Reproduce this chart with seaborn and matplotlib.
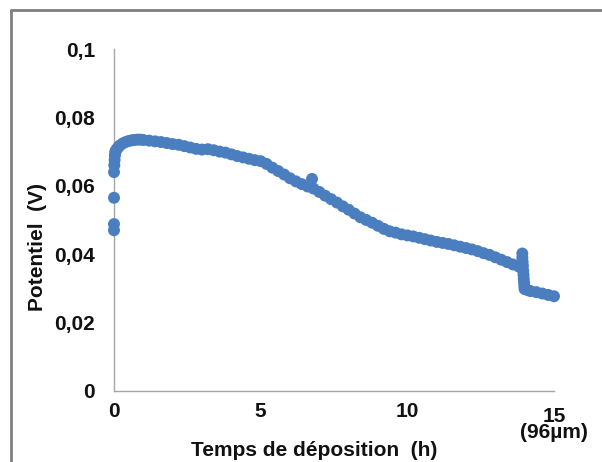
import matplotlib
matplotlib.use("Agg")
import matplotlib.pyplot as plt
import matplotlib.transforms as mtransforms
from matplotlib.lines import Line2D
import seaborn as sns
import pandas as pd

# ---- data ----
temps_h = [0, 0, 0, 0, 0.01, 0.02, 0.03, 0.04, 0.06, 0.1, 0.15, 0.2, 0.3, 0.4, 0.5,
           0.6, 0.7, 0.8, 0.9, 1.0, 1.2, 1.4, 1.6, 1.8, 2.0, 2.2, 2.4, 2.6, 2.8,
           3.0, 3.2, 3.4, 3.6, 3.8, 4.0, 4.2, 4.4, 4.6, 4.8, 5.0, 5.2, 5.4, 5.6,
           5.8, 6.0, 6.2, 6.4, 6.6, 6.75, 6.8, 7.0, 7.2, 7.4, 7.6, 7.8, 8.0, 8.2,
           8.4, 8.6, 8.8, 9.0, 9.2, 9.4, 9.6, 9.8, 10.0, 10.2, 10.4, 10.6, 10.8,
           11.0, 11.2, 11.4, 11.6, 11.8, 12.0, 12.2, 12.4, 12.6, 12.8, 13.0, 13.2,
           13.4, 13.6, 13.8, 13.9, 13.92, 13.92, 13.93, 13.94, 13.95, 13.96, 13.97,
           13.98, 13.99, 14.0, 14.1, 14.2, 14.4, 14.6, 14.8, 15.0]
potentiel_v = [0.047, 0.0488, 0.0565, 0.064, 0.066, 0.0675, 0.0688, 0.0698, 0.0703,
               0.0708, 0.0713, 0.0718, 0.0724, 0.0728, 0.0731, 0.0733, 0.0734, 0.0735,
               0.0735, 0.0734, 0.0732, 0.0730, 0.0728, 0.0725, 0.0722, 0.0720, 0.0716,
               0.0712, 0.0708, 0.0706, 0.0707, 0.0704, 0.0700, 0.0697, 0.0692, 0.0687,
               0.0683, 0.0679, 0.0675, 0.0672, 0.0664, 0.0653, 0.0643, 0.0633, 0.0622,
               0.0613, 0.0605, 0.0598, 0.0620, 0.0592, 0.0582, 0.0571, 0.0561, 0.0551,
               0.0540, 0.0530, 0.0519, 0.0508, 0.0500, 0.0492, 0.0483, 0.0474, 0.0467,
               0.0463, 0.0458, 0.0455, 0.0452, 0.0448, 0.0444, 0.0440, 0.0436, 0.0433,
               0.0430, 0.0426, 0.0422, 0.0418, 0.0414, 0.0409, 0.0403, 0.0398, 0.0391,
               0.0384, 0.0377, 0.0370, 0.0364, 0.0360, 0.0402, 0.0390, 0.0378, 0.0366,
               0.0352, 0.0340, 0.0328, 0.0316, 0.0305, 0.0298, 0.0295, 0.0292, 0.0289,
               0.0285, 0.0281, 0.0277]

x_ticks = [0, 5, 10, 15]
x_tick_labels = ["0", "5", "10", "15\n(96µm)"]
y_ticks = [0, 0.02, 0.04, 0.06, 0.08, 0.1]
y_tick_labels = ["0", "0,02", "0,04", "0,06", "0,08", "0,1"]

df = pd.DataFrame({"t": temps_h, "v": potentiel_v})

sns.set_theme(style="white")
plt.rcParams["font.family"] = ["Liberation Sans", "DejaVu Sans"]
plt.rcParams["font.weight"] = "bold"

W, H = 602, 462
FS = 15
fig = plt.figure(figsize=(W / 100, H / 100), dpi=100)
ax = fig.add_axes([114 / W, (H - 391) / H, (554 - 114) / W, (391 - 49) / H])

sns.scatterplot(data=df, x="t", y="v", ax=ax, color="#4a7ebf", s=74,
                edgecolor="none", linewidth=0, legend=False, zorder=3,
                clip_on=False)

ax.set_xlim(0, 15)
ax.set_ylim(0, 0.1)
ax.set_xticks(x_ticks)
ax.set_xticklabels(x_tick_labels, fontsize=FS, fontweight="bold", linespacing=0.8)
ax.set_yticks(y_ticks)
ax.set_yticklabels(y_tick_labels, fontsize=FS, fontweight="bold")

for s in ["top", "right"]:
    ax.spines[s].set_visible(False)
for s in ["left", "bottom"]:
    ax.spines[s].set_color("#a6a6a6")
    ax.spines[s].set_linewidth(1.0)
ax.tick_params(axis="both", direction="out", length=3.6, width=1.0,
               color="#a6a6a6", labelcolor="#111111")
ax.tick_params(axis="y", pad=10)
ax.tick_params(axis="x", pad=4)

# shift the last (two-line) x tick label slightly down
last = ax.get_xticklabels()[-1]
last.set_transform(last.get_transform() +
                   mtransforms.ScaledTranslation(0, -4 / 72, fig.dpi_scale_trans))

ax.set_xlabel("Temps de déposition  (h)", fontsize=FS, fontweight="bold",
              color="#111111")
ax.set_ylabel("Potentiel  (V)", fontsize=FS, fontweight="bold",
              color="#111111")
ax.xaxis.set_label_coords((314 - 114) / (554 - 114), -(441 - 391) / (391 - 49))
ax.yaxis.set_label_coords(-(114 - 47) / (554 - 114), (391 - 247) / (391 - 49))

# outer frame (left and top edges visible in the reference)
fig.add_artist(Line2D([11 / W, 11 / W], [0, 1 - 10 / H], transform=fig.transFigure,
                      color="#808080", linewidth=2))
fig.add_artist(Line2D([11 / W, 1], [1 - 10 / H, 1 - 10 / H], transform=fig.transFigure,
                      color="#808080", linewidth=2))

fig.savefig("out.png", dpi=100)
